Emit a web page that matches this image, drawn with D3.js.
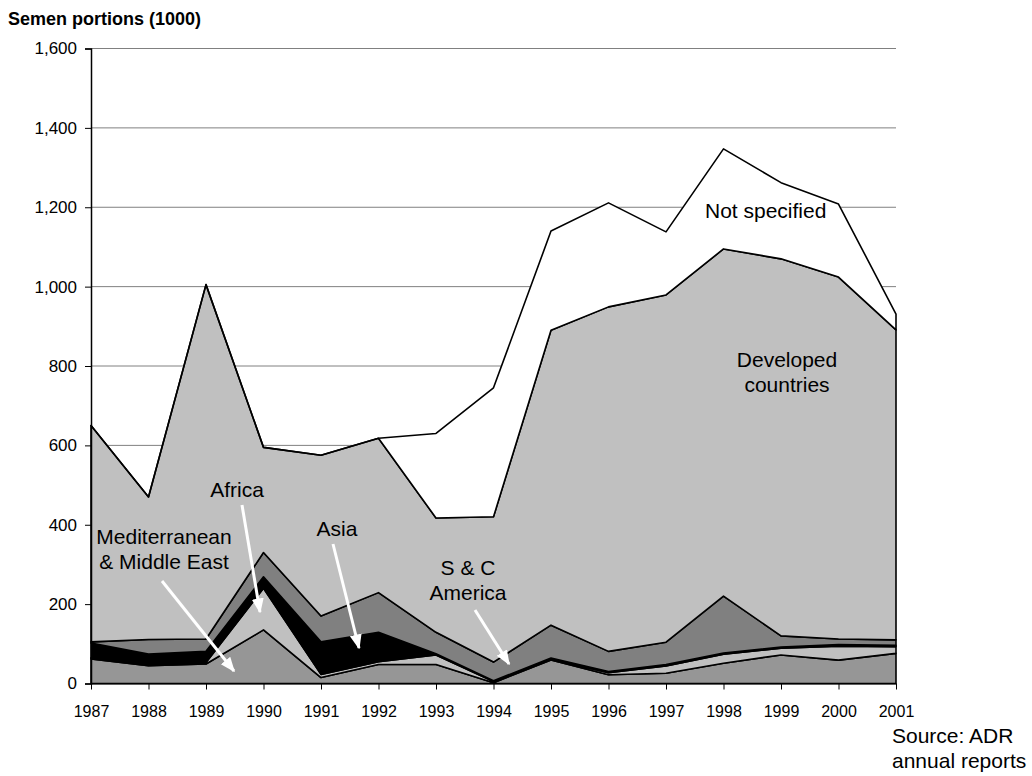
<!DOCTYPE html>
<html>
<head>
<meta charset="utf-8">
<script src="https://cdn.jsdelivr.net/npm/d3@7"></script>
<style>
  body { margin: 0; background: #fff; }
  text { font-family: Arial, "Liberation Sans", sans-serif; }
</style>
</head>
<body>
<div id="chart"></div>
<script>
var years = [1987, 1988, 1989, 1990, 1991, 1992, 1993, 1994, 1995, 1996, 1997, 1998, 1999, 2000, 2001];
var medEast = [62, 45, 49, 135, 15, 48, 48, 2, 59, 22, 26, 51, 72, 59, 76];
var africa = [3, 4, 4, 105, 8, 7, 24, 3, 3, 5, 18, 23, 17, 35, 17];
var asia = [37, 25, 28, 29, 82, 74, 3, 2, 2, 3, 4, 3, 3, 4, 3];
var scAmerica = [3, 37, 31, 61, 65, 100, 54, 47, 83, 51, 56, 143, 28, 14, 14];
var developed = [545, 359, 893, 265, 405, 389, 288, 366, 743, 868, 875, 875, 950, 912, 781];
var notSpecified = [0, 0, 0, 0, 0, 0, 213, 325, 250, 262, 159, 252, 192, 184, 40];
var yTicks = [0, 200, 400, 600, 800, 1000, 1200, 1400, 1600];

var keys = ['medEast', 'africa', 'asia', 'scAmerica', 'developed', 'notSpecified'];
var colors = ['#969696', '#c0c0c0', '#000000', '#808080', '#c0c0c0', '#ffffff'];
var series = { medEast: medEast, africa: africa, asia: asia, scAmerica: scAmerica,
  developed: developed, notSpecified: notSpecified };

var rows = years.map(function(y, i) {
  var r = { year: y };
  keys.forEach(function(k) { r[k] = series[k][i]; });
  return r;
});

var chartWidth = 1032;
var chartHeight = 776;
var plotLeft = 91, plotTop = 48.5, plotW = 805, plotH = 635;

var svg = d3.select('#chart')
    .append('svg')
    .attr('width', chartWidth)
    .attr('height', chartHeight);

var scaleX = d3.scalePoint()
    .domain(years)
    .range([plotLeft, plotLeft + plotW]);
var scaleY = d3.scaleLinear()
    .domain([0, 1600])
    .range([plotTop + plotH, plotTop]);

// gridlines
svg.append('g').selectAll('line')
    .data(yTicks.slice(1))
    .enter()
    .append('line')
    .attr('x1', plotLeft)
    .attr('x2', plotLeft + plotW)
    .attr('y1', function(d) { return scaleY(d); })
    .attr('y2', function(d) { return scaleY(d); })
    .attr('stroke', '#808080')
    .attr('stroke-width', 1);

// stacked areas
var stacked = d3.stack().keys(keys)(rows);
var area = d3.area()
    .x(function(d) { return scaleX(d.data.year); })
    .y0(function(d) { return scaleY(d[0]); })
    .y1(function(d) { return scaleY(d[1]); });

svg.append('g').selectAll('path')
    .data(stacked)
    .enter()
    .append('path')
    .attr('d', area)
    .attr('fill', function(d, i) { return colors[i]; })
    .attr('stroke', '#000')
    .attr('stroke-width', 1.6)
    .attr('stroke-linejoin', 'round');

// Axis
var axisY = d3.axisLeft(scaleY)
    .tickValues(yTicks)
    .tickSize(6)
    .tickPadding(8)
    .tickFormat(d3.format(','));
var gy = svg.append('g')
    .attr('transform', 'translate(' + plotLeft + ',0)')
    .call(axisY);
gy.selectAll('text').attr('font-size', 17).attr('fill', '#000');
gy.selectAll('line,path').attr('stroke', '#000');
gy.select('.domain').attr('stroke-width', 1.5);

var axisX = d3.axisBottom(scaleX)
    .tickSize(6)
    .tickPadding(16)
    .tickSizeOuter(0);
var gx = svg.append('g')
    .attr('transform', 'translate(0,' + (plotTop + plotH) + ')')
    .call(axisX);
gx.selectAll('text').attr('font-size', 16).attr('fill', '#000');
gx.selectAll('line,path').attr('stroke', '#000');

// title
svg.append('text')
    .attr('x', 8)
    .attr('y', 25)
    .attr('font-size', 18)
    .attr('font-weight', 'bold')
    .text('Semen portions (1000)');

// labels
function label(lines, x, y, anchor) {
  var t = svg.append('text')
      .attr('font-size', 21)
      .attr('text-anchor', anchor || 'middle');
  lines.forEach(function(s, i) {
    t.append('tspan').attr('x', x).attr('y', y + i * 24.5).text(s);
  });
}
label(['Not specified'], 705, 218, 'start');
label(['Developed', 'countries'], 787, 367);
label(['Africa'], 237, 497);
label(['Asia'], 337, 536);
label(['Mediterranean', '& Middle East'], 164, 544);
label(['S & C', 'America'], 468, 575);
label(['Source: ADR', 'annual reports'], 892, 743, 'start');

// arrows
var defs = svg.append('defs');
defs.append('marker')
    .attr('id', 'head')
    .attr('viewBox', '0 0 10 10')
    .attr('refX', 9)
    .attr('refY', 5)
    .attr('markerWidth', 5)
    .attr('markerHeight', 5)
    .attr('markerUnits', 'strokeWidth')
    .attr('orient', 'auto')
    .append('path')
    .attr('d', 'M0,1 L10,5 L0,9 z')
    .attr('fill', '#fff');

var arrows = [
  [162, 581, 234, 671],
  [242, 505, 260, 612],
  [333, 544, 359, 648],
  [475, 610, 509, 664]
];
svg.append('g').selectAll('line')
    .data(arrows)
    .enter()
    .append('line')
    .attr('x1', function(d) { return d[0]; })
    .attr('y1', function(d) { return d[1]; })
    .attr('x2', function(d) { return d[2]; })
    .attr('y2', function(d) { return d[3]; })
    .attr('stroke', '#fff')
    .attr('stroke-width', 3)
    .attr('marker-end', 'url(#head)');
</script>
</body>
</html>
